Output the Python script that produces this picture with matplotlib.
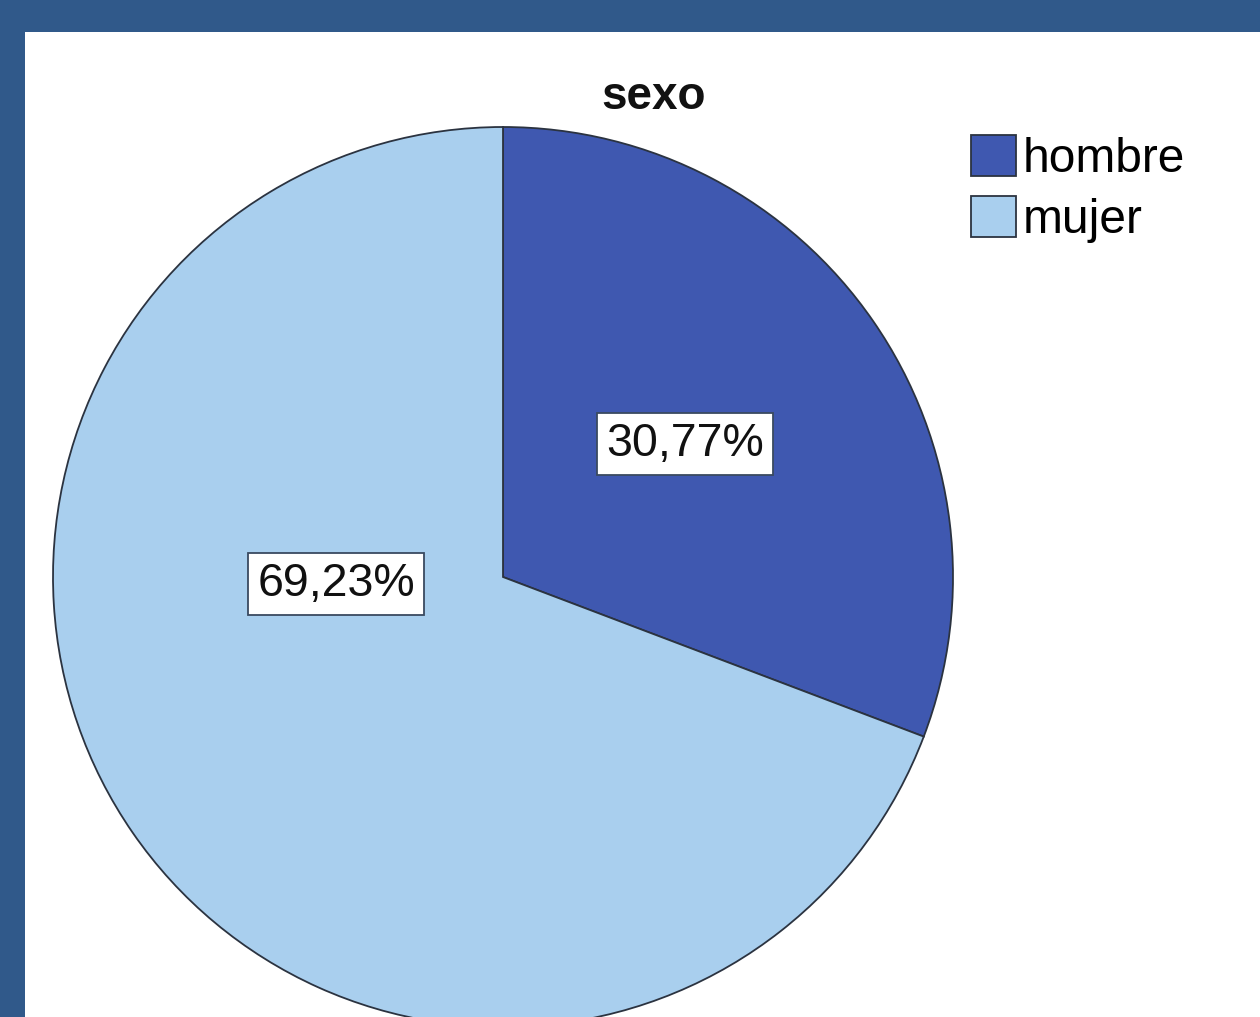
import matplotlib.pyplot as plt
from matplotlib.patches import Rectangle

# data
categories = ["hombre", "mujer"]
percentages = [30.77, 69.23]
colors = ["#3F58B0", "#A9CFEE"]
title = "sexo"

# label positions inside the pie (fraction of radius), as placed in the original
label_xy = [(0.404, 0.296), (-0.371, -0.016)]

plt.rcParams["font.family"] = ["Liberation Sans", "DejaVu Sans"]

fig = plt.figure(figsize=(12.6, 10.17), dpi=100)
fig.patch.set_facecolor("#30598A")

# white panel
fig.patches.append(Rectangle((25 / 1260, 0), 1 - 25 / 1260, 1 - 32 / 1017,
                             transform=fig.transFigure, facecolor="white",
                             edgecolor="none", zorder=-5))

ax = fig.add_axes([53 / 1260, -10 / 1017, 900 / 1260, 900 / 1017])
ax.set_facecolor("none")

wedges, texts = ax.pie(percentages, colors=colors, startangle=90, counterclock=False,
                       radius=1.0, wedgeprops=dict(edgecolor="#2B3340", linewidth=1.3))

for (x, y), p in zip(label_xy, percentages):
    ax.text(x, y, f"{p:.2f}%".replace(".", ","), ha="center", va="center",
            fontsize=33.5, color="#111111",
            bbox=dict(boxstyle="square,pad=0.19", facecolor="white",
                      edgecolor="#3A4A60", linewidth=1.3))

ax.set_xlim(-1, 1)
ax.set_ylim(-1, 1)
ax.set_aspect("equal")
ax.axis("off")

fig.text(654 / 1260, 1 - 97 / 1017, title, ha="center", va="center",
         fontsize=33, fontweight="bold", color="#111111")

fig.legend(wedges, categories, loc="upper left", bbox_to_anchor=(0.771, 0.867),
           frameon=False, fontsize=34.5, handlelength=0.92, handleheight=0.92,
           handletextpad=0.15, labelspacing=0.3, borderpad=0, borderaxespad=0)

fig.savefig("out.png", dpi=100, facecolor=fig.get_facecolor())
